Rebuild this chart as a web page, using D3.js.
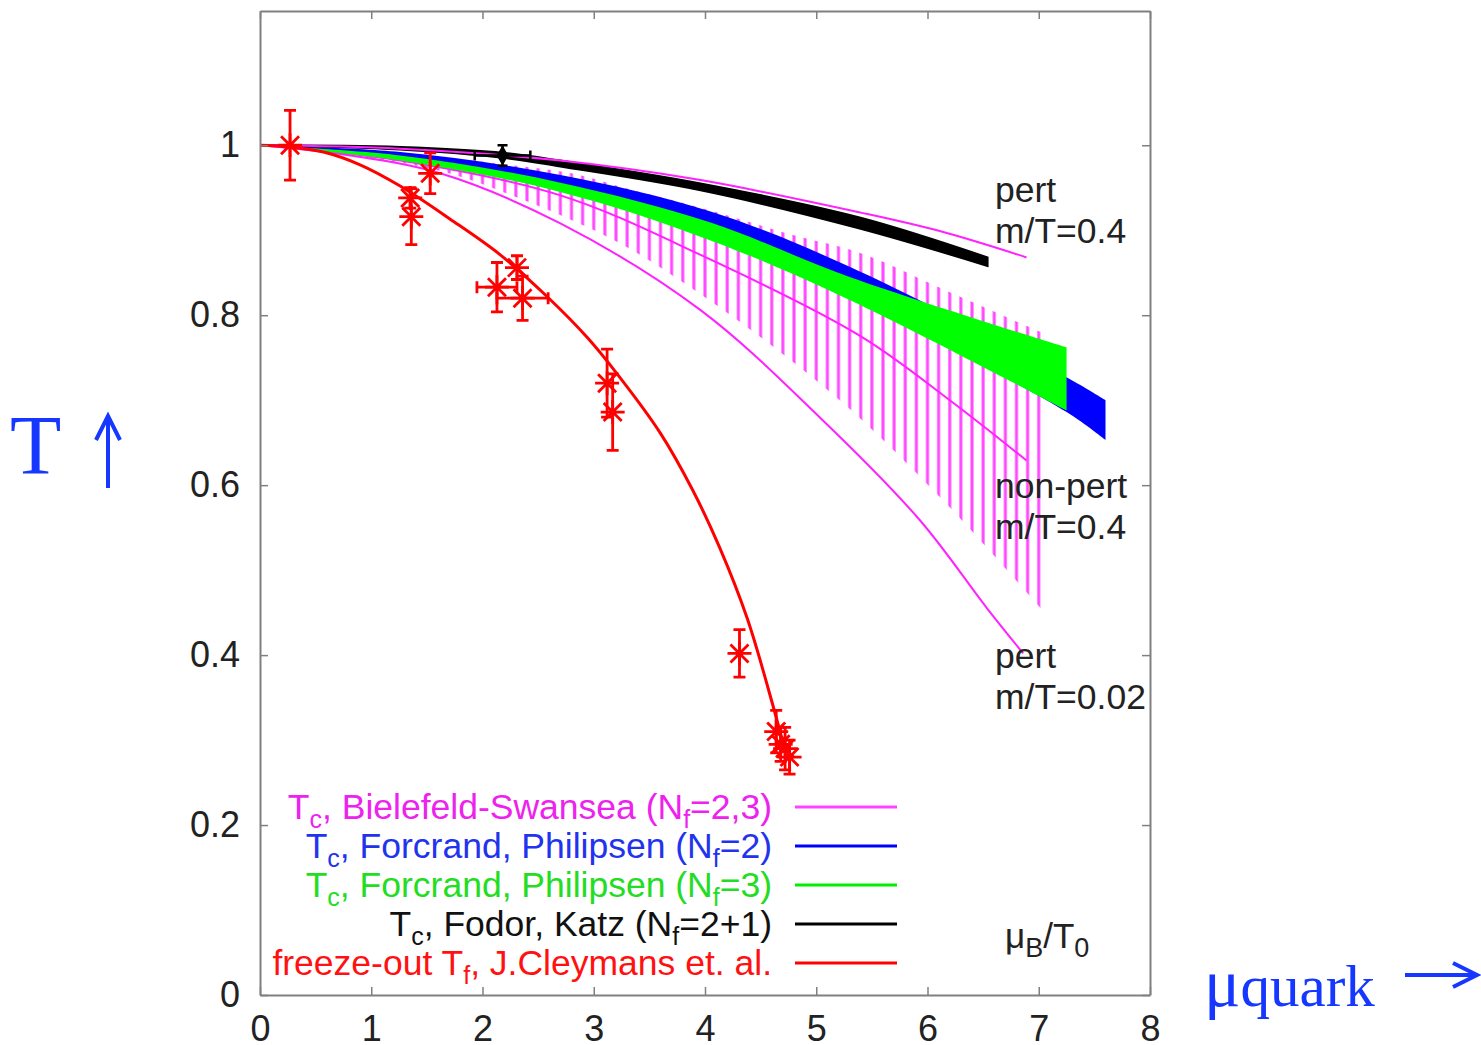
<!DOCTYPE html>
<html>
<head>
<meta charset="utf-8">
<script src="https://cdn.jsdelivr.net/npm/d3@7"></script>
<style>
body { margin: 0; background: #fff; }
svg { display: block; font-family: "Liberation Sans", Arial, sans-serif; }
</style>
</head>
<body>
<svg id="chart" width="1481" height="1045"></svg>
<script>
// ---- data ----
var xTicks = [0, 1, 2, 3, 4, 5, 6, 7, 8];
var yTicks = [0, 0.2, 0.4, 0.6, 0.8, 1];
var yTickLabels = ['0', '0.2', '0.4', '0.6', '0.8', '1'];

// Bielefeld-Swansea: pert m/T=0.4 (upper thin line)
var pertHiX = [0, 1.26, 2.70, 3.96, 5.39, 6.11, 6.89];
var pertHiY = [1.0, 0.996, 0.982, 0.959, 0.921, 0.899, 0.868];
// pert m/T=0.02 (lower thin line)
var pertLoX = [0, 0.81, 1.62, 2.70, 3.96, 5.03, 5.93, 6.53, 6.86];
var pertLoY = [1.0, 0.988, 0.967, 0.908, 0.806, 0.680, 0.559, 0.456, 0.402];
// non-pert m/T=0.4 centre line + hatched error band
var nonPertX = [0, 1.26, 2.70, 3.96, 5.39, 6.20, 6.89];
var nonPertY = [1.0, 0.982, 0.941, 0.871, 0.776, 0.700, 0.629];
var hatchX   = [0, 1.0, 1.7, 2.3, 2.8, 3.3, 4.0, 4.8, 5.4, 6.2, 7.02];
var hatchTop = [1.0, 0.994, 0.985, 0.976, 0.967, 0.949, 0.925, 0.894, 0.873, 0.827, 0.780];
var hatchBot = [1.0, 0.985, 0.967, 0.939, 0.912, 0.880, 0.821, 0.744, 0.678, 0.574, 0.455];

// Forcrand, Philipsen Nf=2 (blue) and Nf=3 (green)
var fpBlueX   = [0, 1.26, 2.70, 4.05, 5.30, 7.25, 7.60];
var fpBlueTop = [1.0, 0.992, 0.965, 0.922, 0.857, 0.727, 0.700];
var fpBlueBot = [1.0, 0.983, 0.946, 0.890, 0.820, 0.686, 0.653];
var fpGreenX   = [0, 1.26, 2.70, 4.05, 5.30, 7.25];
var fpGreenTop = [1.0, 0.988, 0.956, 0.909, 0.845, 0.762];
var fpGreenBot = [1.0, 0.982, 0.945, 0.888, 0.818, 0.688];

// Fodor, Katz Nf=2+1 (black band + point)
var fkX   = [0, 1.26, 2.20, 2.70, 3.96, 5.39, 6.54];
var fkTop = [1.0, 0.998, 0.991, 0.982, 0.955, 0.915, 0.868];
var fkBot = [1.0, 0.995, 0.985, 0.975, 0.947, 0.902, 0.858];
var fkPointX = [2.18], fkPointY = [0.988], fkPointXErr = [0.25], fkPointYErr = [0.012];

// freeze-out, Cleymans et al. (fit + data)
var cleyX = [0, 0.27, 0.57, 0.90, 1.26, 1.71, 2.16, 2.58, 2.94, 3.21, 3.60, 3.89, 4.13, 4.38, 4.61, 4.74];
var cleyY = [1.0, 0.998, 0.992, 0.977, 0.952, 0.913, 0.871, 0.822, 0.774, 0.731, 0.661, 0.594, 0.527, 0.443, 0.341, 0.277];
var freezeX    = [0.27, 1.35, 1.36, 1.53, 2.13, 2.31, 2.36, 3.12, 3.17, 4.31, 4.64, 4.68, 4.72, 4.76];
var freezeY    = [1.0, 0.938, 0.916, 0.967, 0.833, 0.856, 0.82, 0.72, 0.686, 0.402, 0.31, 0.295, 0.29, 0.28];
var freezeXErr = [0, 0, 0, 0, 0.18, 0, 0.23, 0, 0, 0, 0, 0, 0, 0];
var freezeYErr = [0.041, 0.012, 0.033, 0.024, 0.029, 0.014, 0.026, 0.04, 0.045, 0.028, 0.025, 0.02, 0.025, 0.02];

// legend: pieces alternate normal / subscript
var legendLabels = [
    ['T', 'c', ', Bielefeld-Swansea (N', 'f', '=2,3)'],
    ['T', 'c', ', Forcrand, Philipsen (N', 'f', '=2)'],
    ['T', 'c', ', Forcrand, Philipsen (N', 'f', '=3)'],
    ['T', 'c', ', Fodor, Katz (N', 'f', '=2+1)'],
    ['freeze-out T', 'f', ', J.Cleymans et. al.']
];
var legendText  = ['#ee22ee', '#2233ee', '#22dd22', '#111', '#ff1111'];
var legendLine  = ['#ff44ff', '#0000ff', '#00ee00', '#000', '#ff0000'];

var annotations = [['pert', 'm/T=0.4'], ['non-pert', 'm/T=0.4'], ['pert', 'm/T=0.02']];

// ---- drawing ----
var svg = d3.select('#chart');
var x = d3.scaleLinear().domain([0, 8]).range([260, 1150]);
var y = d3.scaleLinear().domain([0, 1.158]).range([995, 11]);

var frameCol = '#808080';
var labelCol = '#222';
var fs = 35.5;

function zip3(a, b, c) { return a.map(function(d, i) { return [d, b[i], c ? c[i] : null]; }); }

var areaGen = d3.area()
    .x(function(d) { return x(d[0]); })
    .y0(function(d) { return y(d[2]); })
    .y1(function(d) { return y(d[1]); })
    .curve(d3.curveCatmullRom.alpha(0.5));
var lineGen = d3.line()
    .x(function(d) { return x(d[0]); })
    .y(function(d) { return y(d[1]); })
    .curve(d3.curveCatmullRom.alpha(0.5));

// hatch pattern, one line every 0.1 in mu_B/T0
var step = x(0.1) - x(0);
var pat = svg.append('defs').append('pattern')
    .attr('id', 'hatch')
    .attr('patternUnits', 'userSpaceOnUse')
    .attr('x', x(0) - step / 2).attr('y', 0)
    .attr('width', step).attr('height', 1045);
pat.append('line')
    .attr('x1', step / 2).attr('x2', step / 2)
    .attr('y1', 0).attr('y2', 1045)
    .attr('stroke', '#ff48ff').attr('stroke-width', 3);

var plot = svg.append('g');

plot.append('path').attr('d', areaGen(zip3(hatchX, hatchTop, hatchBot)))
    .attr('fill', 'url(#hatch)');
plot.append('path').attr('d', lineGen(zip3(nonPertX, nonPertY)))
    .attr('fill', 'none').attr('stroke', '#ff22ff').attr('stroke-width', 2);
plot.append('path').attr('d', lineGen(zip3(pertLoX, pertLoY)))
    .attr('fill', 'none').attr('stroke', '#ff22ff').attr('stroke-width', 2);

plot.append('path').attr('d', areaGen(zip3(fpBlueX, fpBlueTop, fpBlueBot)))
    .attr('fill', '#0000ff');
plot.append('path').attr('d', areaGen(zip3(fpGreenX, fpGreenTop, fpGreenBot)))
    .attr('fill', '#00ff00');

plot.append('path').attr('d', areaGen(zip3(fkX, fkTop, fkBot)))
    .attr('fill', '#000').attr('stroke', '#000').attr('stroke-width', 2);
plot.append('path').attr('d', lineGen(zip3(pertHiX, pertHiY)))
    .attr('fill', 'none').attr('stroke', '#ff22ff').attr('stroke-width', 2);

// freeze-out fit
plot.append('path').attr('d', lineGen(zip3(cleyX, cleyY)))
    .attr('fill', 'none').attr('stroke', '#ff0000').attr('stroke-width', 3);

function errPath(px, py, ex, ey, cap) {
    var cx = x(px), cy = y(py), s = '';
    if (ey > 0) {
        var t = y(py + ey), b = y(py - ey);
        s += 'M' + cx + ',' + t + 'V' + b +
             'M' + (cx - cap) + ',' + t + 'H' + (cx + cap) +
             'M' + (cx - cap) + ',' + b + 'H' + (cx + cap);
    }
    if (ex > 0) {
        var l = x(px - ex), r = x(px + ex);
        s += 'M' + l + ',' + cy + 'H' + r +
             'M' + l + ',' + (cy - cap) + 'V' + (cy + cap) +
             'M' + r + ',' + (cy - cap) + 'V' + (cy + cap);
    }
    return s;
}
function starPath(px, py, r) {
    var cx = x(px), cy = y(py), d = r * 0.75;
    return 'M' + (cx - r) + ',' + cy + 'H' + (cx + r) +
           'M' + cx + ',' + (cy - r) + 'V' + (cy + r) +
           'M' + (cx - d) + ',' + (cy - d) + 'L' + (cx + d) + ',' + (cy + d) +
           'M' + (cx - d) + ',' + (cy + d) + 'L' + (cx + d) + ',' + (cy - d);
}

var pts = plot.append('g').attr('fill', 'none').attr('stroke', '#ff0000').attr('stroke-width', 2.8);
freezeX.forEach(function(d, i) {
    pts.append('path').attr('d', errPath(d, freezeY[i], freezeXErr[i], freezeYErr[i], 6));
    pts.append('path').attr('d', starPath(d, freezeY[i], 12));
});

// Fodor-Katz point
var bk = plot.append('g');
fkPointX.forEach(function(d, i) {
    bk.append('path').attr('d', errPath(d, fkPointY[i], fkPointXErr[i], fkPointYErr[i], 5))
        .attr('fill', 'none').attr('stroke', '#000').attr('stroke-width', 2.5);
    bk.append('path').attr('d', d3.symbol().type(d3.symbolDiamond).size(120)())
        .attr('transform', 'translate(' + x(d) + ',' + y(fkPointY[i]) + ')')
        .attr('fill', '#000');
});

// ---- axes / frame ----
function styleAxis(g) {
    g.attr('font-family', null).attr('font-size', null);
    g.select('.domain').attr('stroke', frameCol).attr('stroke-width', 2);
    g.selectAll('.tick line').attr('stroke', frameCol).attr('stroke-width', 1.5);
    g.selectAll('.tick text').attr('fill', labelCol).attr('font-size', 36);
}
svg.append('g').attr('transform', 'translate(0,' + y(0) + ')')
    .call(d3.axisBottom(x).tickValues(xTicks).tickSize(-8).tickSizeOuter(0).tickPadding(20)
        .tickFormat(d3.format('d')))
    .call(styleAxis);
svg.append('g').attr('transform', 'translate(0,' + y(1.158) + ')')
    .call(d3.axisTop(x).tickValues(xTicks).tickSize(-8).tickSizeOuter(0).tickFormat(''))
    .call(styleAxis);
svg.append('g').attr('transform', 'translate(' + x(0) + ',0)')
    .call(d3.axisLeft(y).tickValues(yTicks).tickSize(-8).tickSizeOuter(0).tickPadding(20)
        .tickFormat(function(d, i) { return yTickLabels[i]; }))
    .call(styleAxis);
svg.append('g').attr('transform', 'translate(' + x(8) + ',0)')
    .call(d3.axisRight(y).tickValues(yTicks).tickSize(-8).tickSizeOuter(0).tickFormat(''))
    .call(styleAxis);

// ---- legend ----
var legend = svg.append('g').attr('font-size', fs);
legendLabels.forEach(function(parts, i) {
    var ly = 807 + i * 39;
    var t = legend.append('text')
        .attr('x', 772).attr('y', ly + 12)
        .attr('text-anchor', 'end')
        .attr('fill', legendText[i]);
    parts.forEach(function(p, k) {
        var sub = k % 2 === 1;
        t.append('tspan')
            .attr('dy', k === 0 ? 0 : (sub ? 9 : -9))
            .attr('font-size', sub ? 25 : fs)
            .text(p);
    });
    legend.append('line')
        .attr('x1', 795).attr('x2', 897).attr('y1', ly).attr('y2', ly)
        .attr('stroke', legendLine[i]).attr('stroke-width', 3);
});

// ---- curve annotations ----
var annY = [202, 498, 668];
annotations.forEach(function(a, i) {
    var t = svg.append('text').attr('x', 995).attr('y', annY[i])
        .attr('font-size', fs).attr('fill', labelCol);
    t.append('tspan').attr('x', 995).text(a[0]);
    t.append('tspan').attr('x', 995).attr('dy', 41).text(a[1]);
});

// mu_B / T_0 in the corner
var mt = svg.append('text').attr('x', 1005).attr('y', 948).attr('font-size', 35).attr('fill', labelCol);
mt.append('tspan').text('\u03bc');
mt.append('tspan').attr('dy', 9).attr('font-size', 27).text('B');
mt.append('tspan').attr('dy', -9).text('/T');
mt.append('tspan').attr('dy', 9).attr('font-size', 27).text('0');

// ---- big blue axis labels ----
var blue = '#1637ff';
svg.append('text').attr('x', 10).attr('y', 474)
    .attr('font-family', '"Liberation Serif", "Times New Roman", serif')
    .attr('font-size', 84).attr('fill', blue).text('T');
svg.append('path').attr('d', 'M108,488V416M96,440L108,416L120,440')
    .attr('fill', 'none').attr('stroke', blue).attr('stroke-width', 4);

var xl = svg.append('text').attr('x', 1204).attr('y', 1006)
    .attr('font-family', '"Liberation Serif", "Times New Roman", serif')
    .attr('fill', blue);
xl.append('tspan').attr('font-size', 68).text('\u03bc');
xl.append('tspan').attr('font-size', 59).text('quark');
svg.append('path').attr('d', 'M1405,975H1477M1453,963L1477,975L1453,987')
    .attr('fill', 'none').attr('stroke', blue).attr('stroke-width', 4);
</script>
</body>
</html>
